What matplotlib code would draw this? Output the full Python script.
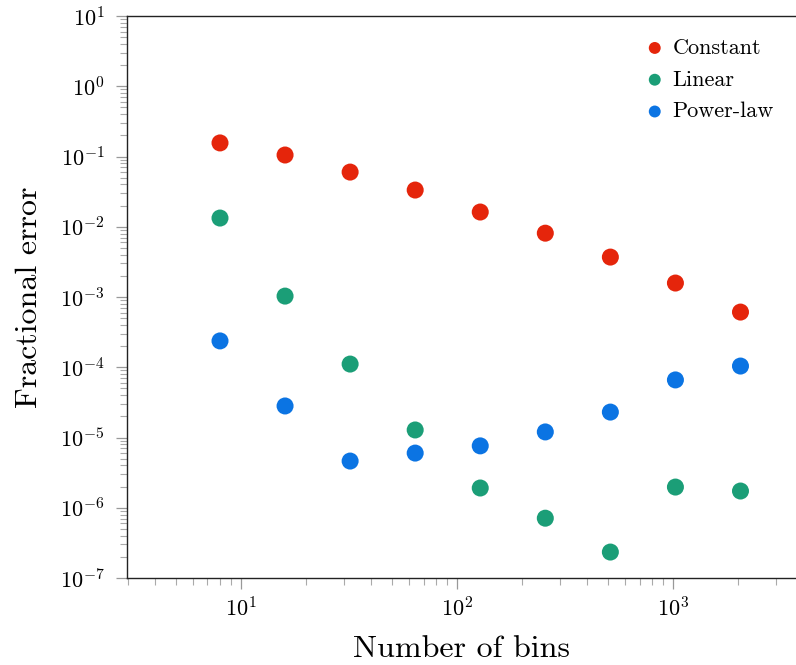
import numpy as np
import matplotlib
matplotlib.use("Agg")
import matplotlib.pyplot as plt
from matplotlib.ticker import LogLocator, NullFormatter

plt.rcParams['font.family'] = 'serif'
plt.rcParams['font.serif'] = ['cmr10', 'DejaVu Serif']
plt.rcParams['mathtext.fontset'] = 'cm'
plt.rcParams['axes.formatter.use_mathtext'] = True

# data
bins = [8, 16, 32, 64, 128, 256, 512, 1024, 2048]
err_constant = [0.156, 0.105, 0.060, 0.0333, 0.0162, 0.0081, 0.0037, 0.00158, 0.00061]
err_linear = [0.0133, 0.00103, 1.11e-4, 1.28e-5, 1.91e-6, 7.1e-7, 2.34e-7, 1.97e-6, 1.73e-6]
err_power = [2.37e-4, 2.81e-5, 4.62e-6, 6.0e-6, 7.6e-6, 1.2e-5, 2.3e-5, 6.6e-5, 1.04e-4]

series = [
    ('Constant', err_constant, '#e5250b'),
    ('Linear', err_linear, '#1b9e77'),
    ('Power-law', err_power, '#0b74e3'),
]

W, H = 796, 665
fig = plt.figure(figsize=(W / 100, H / 100), dpi=100)
ax = fig.add_axes([127 / W, 1 - 578 / H, (796 - 127) / W, (578 - 16) / H])

for name, vals, col in series:
    ax.scatter(bins, vals, s=150, color=col, edgecolors='none', label=name, zorder=3)

ax.set_xscale('log')
ax.set_yscale('log')
ax.set_xlim(2.97, 3700)
ax.set_ylim(1e-7, 10)

ax.yaxis.set_major_locator(LogLocator(base=10, numticks=20))
ax.yaxis.set_minor_locator(LogLocator(base=10, subs=np.arange(2, 10), numticks=20))
ax.yaxis.set_minor_formatter(NullFormatter())
ax.xaxis.set_minor_formatter(NullFormatter())

ax.spines['right'].set_visible(False)
for s in ['left', 'bottom', 'top']:
    ax.spines[s].set_linewidth(1.0)
    ax.spines[s].set_color('#222222')

ax.tick_params(which='major', direction='out', length=8, width=0.9, color='#999999',
               labelsize=16)
ax.tick_params(which='minor', direction='out', length=5, width=0.8, color='#aaaaaa')
ax.tick_params(axis='x', which='both', top=False, pad=5)
ax.tick_params(axis='y', which='both', right=False, pad=8)

ax.set_xlabel('Number of bins', fontsize=23, labelpad=11)
ax.set_ylabel('Fractional error', fontsize=23, labelpad=12)

ax.legend(loc='upper right', frameon=False, fontsize=16, handlelength=1.0,
          handletextpad=0.3, markerscale=0.7, labelspacing=0.55, borderaxespad=0.6)

fig.savefig('out.png', dpi=100)
